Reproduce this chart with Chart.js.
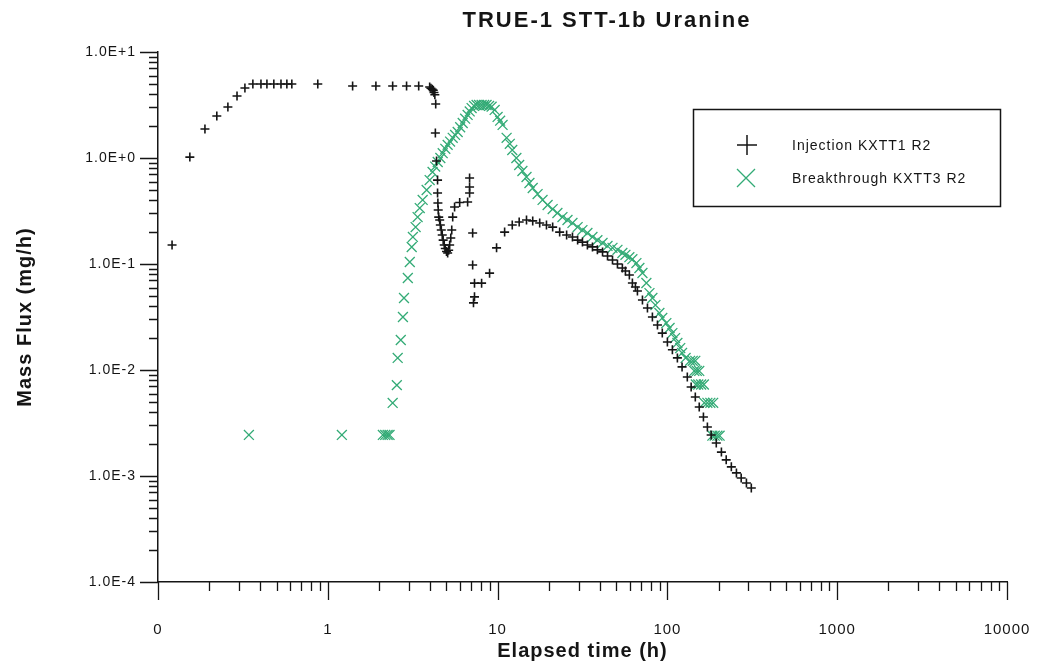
<!DOCTYPE html>
<html>
<head>
<meta charset="utf-8">
<title>TRUE-1 STT-1b Uranine</title>
<script src="https://cdn.jsdelivr.net/npm/chart.js@4.4.1/dist/chart.umd.min.js"></script>
<style>
    html, body { margin: 0; padding: 0; background: #fff; }
</style>
</head>
<body>
<canvas id="fluxChart" width="1039" height="663"></canvas>
<script>
// Injection KXTT1 R2 (h, mg/h)
const injTime = [
    0.121, 0.154, 0.189, 0.222, 0.258, 0.292, 0.325, 0.362, 0.404, 0.438,
    0.481, 0.530, 0.574, 0.614, 0.873, 1.40, 1.92, 2.41, 2.91, 3.43,
    3.98, 4.05, 4.12, 4.18, 4.22, 4.27, 4.32, 4.30, 4.37, 4.43,
    4.43, 4.45, 4.47, 4.50, 4.56, 4.60, 4.66, 4.72, 4.78, 4.85,
    4.92, 5.00, 5.08, 5.15, 5.22, 5.30, 5.37, 5.44, 5.58, 5.98,
    6.66, 6.84, 6.84, 6.84, 7.13, 7.13, 7.31, 8.05, 7.31, 7.21,
    8.97, 9.86, 11.0, 12.2, 13.4, 14.8, 16.1, 17.7, 19.4, 21.1,
    23.2, 25.5, 27.6, 29.6, 31.6, 33.8, 36.2, 38.7, 41.5, 44.4,
    47.5, 50.8, 54.3, 56.6, 59.7, 62.2, 64.8, 66.6, 71.3, 76.3,
    81.6, 87.4, 93.3, 100, 107, 114.5, 122, 131, 138, 146,
    154, 163, 172, 181, 194, 208, 222, 238, 255, 272,
    292, 312
];
const injFlux = [
    0.151, 1.02, 1.88, 2.49, 3.03, 3.85, 4.57, 4.99, 4.99, 4.99,
    4.99, 4.99, 4.99, 4.99, 4.99, 4.78, 4.78, 4.78, 4.78, 4.78,
    4.68, 4.55, 4.45, 4.35, 4.15, 3.95, 3.23, 1.72, 0.937, 0.619,
    0.467, 0.376, 0.323, 0.277, 0.260, 0.233, 0.209, 0.188, 0.168, 0.151,
    0.140, 0.131, 0.127, 0.135, 0.151, 0.176, 0.209, 0.277, 0.345, 0.380,
    0.385, 0.467, 0.532, 0.648, 0.196, 0.098, 0.066, 0.066, 0.049, 0.043,
    0.082, 0.142, 0.200, 0.233, 0.249, 0.260, 0.255, 0.244, 0.233, 0.223,
    0.200, 0.188, 0.180, 0.168, 0.161, 0.151, 0.145, 0.136, 0.130, 0.119,
    0.109, 0.100, 0.0917, 0.0859, 0.0787, 0.0662, 0.0607, 0.0556, 0.0457, 0.0385,
    0.0316, 0.0266, 0.0223, 0.0184, 0.0155, 0.0130, 0.0107, 0.00859, 0.00691, 0.00556,
    0.00448, 0.00360, 0.00290, 0.00244, 0.00205, 0.00168, 0.00142, 0.00122, 0.00107, 0.000957,
    0.00086, 0.00077
];

// Breakthrough KXTT3 R2 (h, mg/h)
const btcTime = [
    0.343, 1.21, 2.11, 2.18, 2.25, 2.31, 2.41, 2.55, 2.58, 2.69,
    2.77, 2.81, 2.96, 3.04, 3.12, 3.17, 3.29, 3.38, 3.48, 3.62,
    3.82, 3.98, 4.14, 4.29, 4.44, 4.60, 4.75, 4.92, 5.08, 5.25,
    5.44, 5.62, 5.82, 6.02, 6.23, 6.44, 6.66, 6.85, 7.03, 7.27,
    7.52, 7.78, 8.05, 8.33, 8.61, 8.91, 9.22, 9.61, 10.0, 10.35,
    10.7, 11.3, 11.8, 12.2, 12.9, 13.4, 14.0, 14.8, 15.4, 16.1,
    17.2, 18.4, 19.7, 21.1, 22.5, 24.1, 25.8, 27.6, 29.6, 31.6,
    33.8, 36.2, 38.7, 41.5, 44.4, 47.5, 50.8, 54.3, 56.6, 59.7,
    62.2, 65.7, 68.4, 71.3, 75.2, 78.4, 81.6, 85.0, 89.7, 93.3,
    98.6, 103, 107, 111, 114.5, 119, 122, 128, 136, 141,
    146, 144, 149, 154, 147, 152, 158, 164, 165, 172,
    179, 186, 184, 190, 197, 203
];
const btcFlux = [
    0.00244, 0.00244, 0.00244, 0.00244, 0.00244, 0.00244, 0.00489, 0.0072, 0.0130, 0.0192,
    0.0316, 0.0478, 0.0738, 0.1045, 0.1446, 0.180, 0.223, 0.277, 0.337, 0.402,
    0.499, 0.619, 0.738, 0.83, 0.917, 1.00, 1.11, 1.22, 1.33, 1.43,
    1.55, 1.65, 1.76, 1.95, 2.14, 2.35, 2.55, 2.75, 2.96, 3.10,
    3.16, 3.16, 3.16, 3.16, 3.16, 3.10, 3.05, 2.84, 2.44, 2.25,
    2.05, 1.55, 1.36, 1.19, 1.00, 0.859, 0.754, 0.662, 0.581, 0.521,
    0.457, 0.402, 0.360, 0.330, 0.303, 0.277, 0.260, 0.244, 0.223, 0.209,
    0.196, 0.180, 0.168, 0.158, 0.148, 0.142, 0.136, 0.127, 0.122, 0.116,
    0.111, 0.102, 0.0917, 0.0822, 0.0662, 0.0532, 0.0478, 0.0410, 0.0345, 0.0310,
    0.0277, 0.0249, 0.0223, 0.0200, 0.0180, 0.0161, 0.0145, 0.0130, 0.0122, 0.0122,
    0.0122, 0.0098, 0.0098, 0.0098, 0.0073, 0.0073, 0.0073, 0.0073, 0.0049, 0.0049,
    0.0049, 0.0049, 0.0024, 0.0024, 0.0024, 0.0024
];

// axis decades
const timeDecades = [0.1, 1, 10, 100, 1000, 10000];
const fluxDecades = [1e-4, 1e-3, 1e-2, 1e-1, 1e0, 1e1];

const FONT = "'Liberation Sans', Arial, Helvetica, sans-serif";
const INK = '#151515';
const GREEN = '#33ab76';

function toPoints(xs, ys) {
    return xs.map((x, i) => ({ x: x, y: ys[i] }));
}

function expLabel(v) {
    const e = Math.round(Math.log10(v));
    return '1.0E' + (e >= 0 ? '+' : '-') + Math.abs(e);
}

// white page + letter spacing like the old plot software
const paper = {
    id: 'paper',
    beforeDraw(chart) {
        const ctx = chart.ctx;
        ctx.save();
        ctx.fillStyle = '#fff';
        ctx.fillRect(0, 0, chart.width, chart.height);
        ctx.restore();
        ctx.letterSpacing = '1px';
    }
};

// log tick marks: long at decades, short in between, pointing outwards
const logTicks = {
    id: 'logTicks',
    afterDraw(chart) {
        const ctx = chart.ctx;
        const xs = chart.scales.x, ys = chart.scales.y;
        const a = chart.chartArea;
        ctx.save();
        ctx.strokeStyle = INK;
        ctx.lineWidth = 1.3;
        ctx.beginPath();
        for (let e = -1; e <= 4; e++) {
            for (let m = 1; m <= 9; m++) {
                if (e === 4 && m > 1) break;
                const px = Math.round(xs.getPixelForValue(m * Math.pow(10, e))) + 0.5;
                const len = m === 1 ? 18 : 9;
                ctx.moveTo(px, a.bottom);
                ctx.lineTo(px, a.bottom + len);
            }
        }
        for (let e = -4; e <= 1; e++) {
            for (let m = 1; m <= 9; m++) {
                if (e === 1 && m > 1) break;
                const py = Math.round(ys.getPixelForValue(m * Math.pow(10, e))) + 0.5;
                const len = m === 1 ? 18 : 9;
                ctx.moveTo(a.left, py);
                ctx.lineTo(a.left - len, py);
            }
        }
        ctx.stroke();
        ctx.restore();
    }
};

// title and boxed legend
const plotTitle = {
    id: 'plotTitle',
    afterDraw(chart) {
        const ctx = chart.ctx;
        ctx.save();
        ctx.fillStyle = INK;
        ctx.font = 'bold 22px ' + FONT;
        ctx.letterSpacing = '2px';
        ctx.textAlign = 'center';
        ctx.textBaseline = 'middle';
        ctx.fillText('TRUE-1 STT-1b Uranine', 607, 21);
        ctx.restore();
    }
};

const boxLegend = {
    id: 'boxLegend',
    afterDraw(chart) {
        const ctx = chart.ctx;
        const bx = 693, by = 109, bw = 307, bh = 97;
        ctx.save();
        ctx.strokeStyle = INK;
        ctx.lineWidth = 1.5;
        ctx.strokeRect(bx + 0.5, by + 0.5, bw, bh);

        // plus
        ctx.lineWidth = 1.5;
        ctx.beginPath();
        ctx.moveTo(737, 145); ctx.lineTo(757, 145);
        ctx.moveTo(747, 135); ctx.lineTo(747, 155);
        ctx.stroke();
        // cross
        ctx.strokeStyle = GREEN;
        ctx.lineWidth = 1.3;
        ctx.beginPath();
        ctx.moveTo(737, 169); ctx.lineTo(755, 187);
        ctx.moveTo(755, 169); ctx.lineTo(737, 187);
        ctx.stroke();

        ctx.fillStyle = INK;
        ctx.font = '14px ' + FONT;
        ctx.letterSpacing = '1px';
        ctx.textAlign = 'left';
        ctx.textBaseline = 'middle';
        ctx.fillText('Injection KXTT1 R2', 792, 146);
        ctx.fillText('Breakthrough KXTT3 R2', 792, 179);
        ctx.restore();
    }
};

const ctx = document.getElementById('fluxChart');
const fluxChart = new Chart(ctx, {
    type: 'scatter',
    data: {
        datasets: [
            {
                label: 'Injection KXTT1 R2',
                data: toPoints(injTime, injFlux),
                pointStyle: 'cross',
                pointRadius: 4.5,
                pointHoverRadius: 4.5,
                pointBorderWidth: 1.6,
                borderColor: INK,
                backgroundColor: INK
            },
            {
                label: 'Breakthrough KXTT3 R2',
                data: toPoints(btcTime, btcFlux),
                pointStyle: 'crossRot',
                pointRadius: 7,
                pointHoverRadius: 7,
                pointBorderWidth: 1.3,
                borderColor: GREEN,
                backgroundColor: GREEN
            }
        ]
    },
    options: {
        responsive: false,
        animation: false,
        events: [],
        layout: { padding: { top: 52, right: 32, bottom: 0, left: 0 } },
        plugins: {
            legend: { display: false },
            title: { display: false },
            tooltip: { enabled: false }
        },
        scales: {
            x: {
                type: 'logarithmic',
                min: 0.1,
                max: 10000,
                afterBuildTicks: (scale) => {
                    scale.ticks = timeDecades.map(v => ({ value: v }));
                },
                afterFit: (scale) => {
                    scale.height = 81;
                    scale.paddingLeft = 0;
                    scale.paddingRight = 0;
                },
                grid: { display: false },
                border: { display: true, color: INK, width: 1.5 },
                ticks: {
                    color: INK,
                    padding: 31,
                    maxRotation: 0,
                    autoSkip: false,
                    font: { family: FONT, size: 15 },
                    callback: (v) => (v < 1 ? '0' : String(Math.round(v)))
                },
                title: {
                    display: true,
                    text: 'Elapsed time (h)',
                    color: INK,
                    padding: { top: 0, bottom: 0 },
                    font: { family: FONT, size: 20, weight: 'bold' }
                }
            },
            y: {
                type: 'logarithmic',
                min: 1e-4,
                max: 10,
                afterBuildTicks: (scale) => {
                    scale.ticks = fluxDecades.map(v => ({ value: v }));
                },
                afterFit: (scale) => {
                    scale.width = 158;
                    scale.paddingTop = 0;
                    scale.paddingBottom = 0;
                },
                grid: { display: false },
                border: { display: true, color: INK, width: 1.5 },
                ticks: {
                    color: INK,
                    padding: 14,
                    autoSkip: false,
                    font: { family: FONT, size: 14 },
                    callback: (v) => expLabel(v)
                },
                title: {
                    display: true,
                    text: 'Mass Flux (mg/h)',
                    color: INK,
                    padding: { top: 13, bottom: 0 },
                    font: { family: FONT, size: 20, weight: 'bold' }
                }
            }
        }
    },
    plugins: [paper, logTicks, plotTitle, boxLegend]
});
</script>
</body>
</html>
